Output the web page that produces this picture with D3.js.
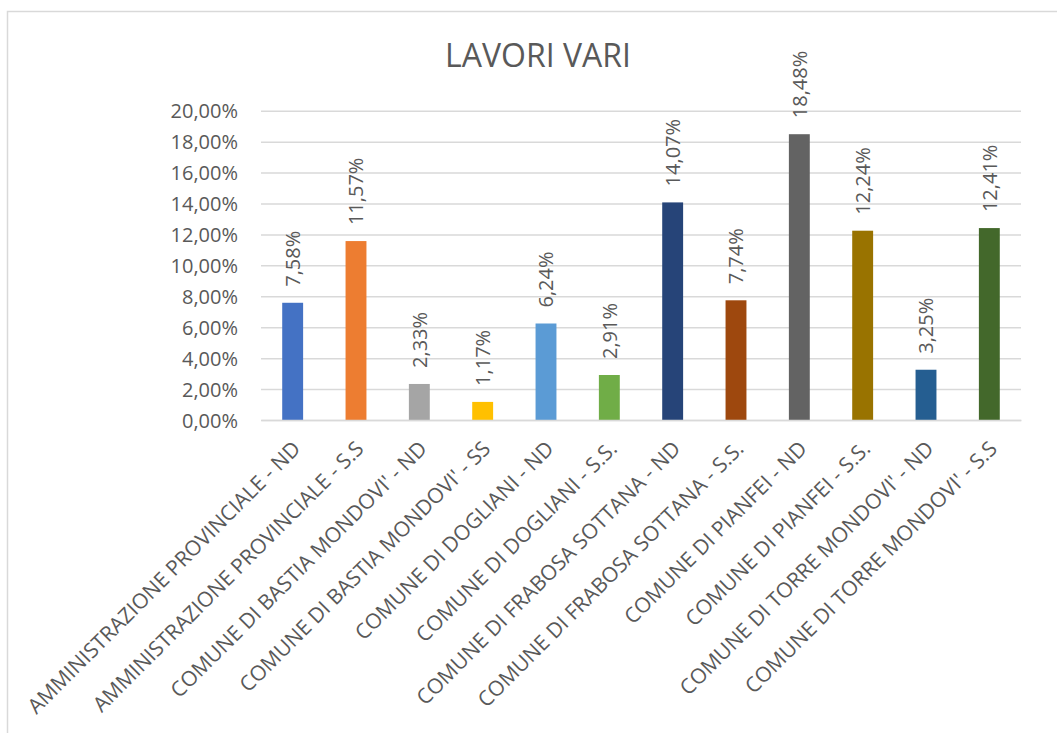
<!DOCTYPE html>
<html>
<head>
<meta charset="utf-8">
<script src="https://cdn.jsdelivr.net/npm/d3@7"></script>
<style>
  html, body { margin: 0; padding: 0; background: #fff; overflow: hidden; }
  svg { display: block; }
  text { font-family: "Open Sans", "Liberation Sans", sans-serif; fill: #595959; }
</style>
</head>
<body>
<svg id="chart" width="1057" height="733"></svg>
<script>
const categories = [
  "AMMINISTRAZIONE PROVINCIALE - ND",
  "AMMINISTRAZIONE PROVINCIALE - S.S",
  "COMUNE DI BASTIA MONDOVI' - ND",
  "COMUNE DI BASTIA MONDOVI' - SS",
  "COMUNE DI DOGLIANI - ND",
  "COMUNE DI DOGLIANI - S.S.",
  "COMUNE DI FRABOSA SOTTANA - ND",
  "COMUNE DI FRABOSA SOTTANA - S.S.",
  "COMUNE DI PIANFEI - ND",
  "COMUNE DI PIANFEI - S.S.",
  "COMUNE DI TORRE MONDOVI' - ND",
  "COMUNE DI TORRE MONDOVI' - S.S"
];
const values = [7.58, 11.57, 2.33, 1.17, 6.24, 2.91, 14.07, 7.74, 18.48, 12.24, 3.25, 12.41];
const valueLabels = ["7,58%", "11,57%", "2,33%", "1,17%", "6,24%", "2,91%", "14,07%", "7,74%", "18,48%", "12,24%", "3,25%", "12,41%"];
const colors = ["#4472C4", "#ED7D31", "#A5A5A5", "#FFC000", "#5B9BD5", "#70AD47", "#264478", "#9E480E", "#636363", "#997300", "#255E91", "#43682B"];
const tickValues = [0, 2, 4, 6, 8, 10, 12, 14, 16, 18, 20];
const tickLabels = ["0,00%", "2,00%", "4,00%", "6,00%", "8,00%", "10,00%", "12,00%", "14,00%", "16,00%", "18,00%", "20,00%"];
const title = "LAVORI VARI";

const svg = d3.select("#chart");

// chart border
svg.append("rect")
  .attr("x", 7.5).attr("y", 11.5)
  .attr("width", 1100).attr("height", 800)
  .attr("fill", "#fff")
  .attr("stroke", "#d9d9d9").attr("stroke-width", 1.5);

const plot = { left: 261, right: 1021, top: 110.7, bottom: 420 };

const x = d3.scaleBand()
  .domain(categories)
  .range([plot.left, plot.right])
  .paddingInner(0.67).paddingOuter(0.335);

const y = d3.scaleLinear()
  .domain([0, 20])
  .range([plot.bottom, plot.top]);

// title
svg.append("text")
  .attr("x", 538).attr("y", 67)
  .attr("text-anchor", "middle")
  .style("font-size", "32px")
  .text(title);

// gridlines
const yAxis = d3.axisLeft(y)
  .tickValues(tickValues)
  .tickSize(-(plot.right - plot.left))
  .tickPadding(23)
  .tickFormat((d, i) => tickLabels[i]);

const gy = svg.append("g")
  .attr("transform", `translate(${plot.left},0)`)
  .call(yAxis);
gy.select(".domain").remove();
gy.selectAll(".tick line").attr("stroke", "#d9d9d9").attr("stroke-width", 1.5);
gy.selectAll(".tick text")
  .style("font-size", "20px")
  .attr("fill", "#595959")
  .attr("dy", "0.35em");

// bars
svg.append("g").selectAll("rect")
  .data(values)
  .join("rect")
  .attr("x", (d, i) => x(categories[i]))
  .attr("width", x.bandwidth())
  .attr("y", d => y(d))
  .attr("height", d => y(0) - y(d))
  .attr("fill", (d, i) => colors[i]);

// data labels
svg.append("g").selectAll("text")
  .data(values)
  .join("text")
  .attr("transform", (d, i) => `translate(${x(categories[i]) + x.bandwidth() / 2},${y(d) - 16}) rotate(-90)`)
  .attr("text-anchor", "start")
  .attr("dy", "0.36em")
  .style("font-size", "20px")
  .text((d, i) => valueLabels[i]);

// category axis
const xAxis = d3.axisBottom(x).tickSize(0).tickPadding(0);
const gx = svg.append("g")
  .attr("transform", `translate(0,${plot.bottom})`)
  .call(xAxis);
gx.select(".domain").attr("stroke", "#d9d9d9").attr("stroke-width", 1.5);
gx.selectAll(".tick text")
  .attr("y", 0).attr("dy", 0)
  .attr("transform", "translate(9,30) rotate(-45)")
  .attr("text-anchor", "end")
  .attr("fill", "#595959")
  .style("font-size", "21px");
</script>
</body>
</html>
